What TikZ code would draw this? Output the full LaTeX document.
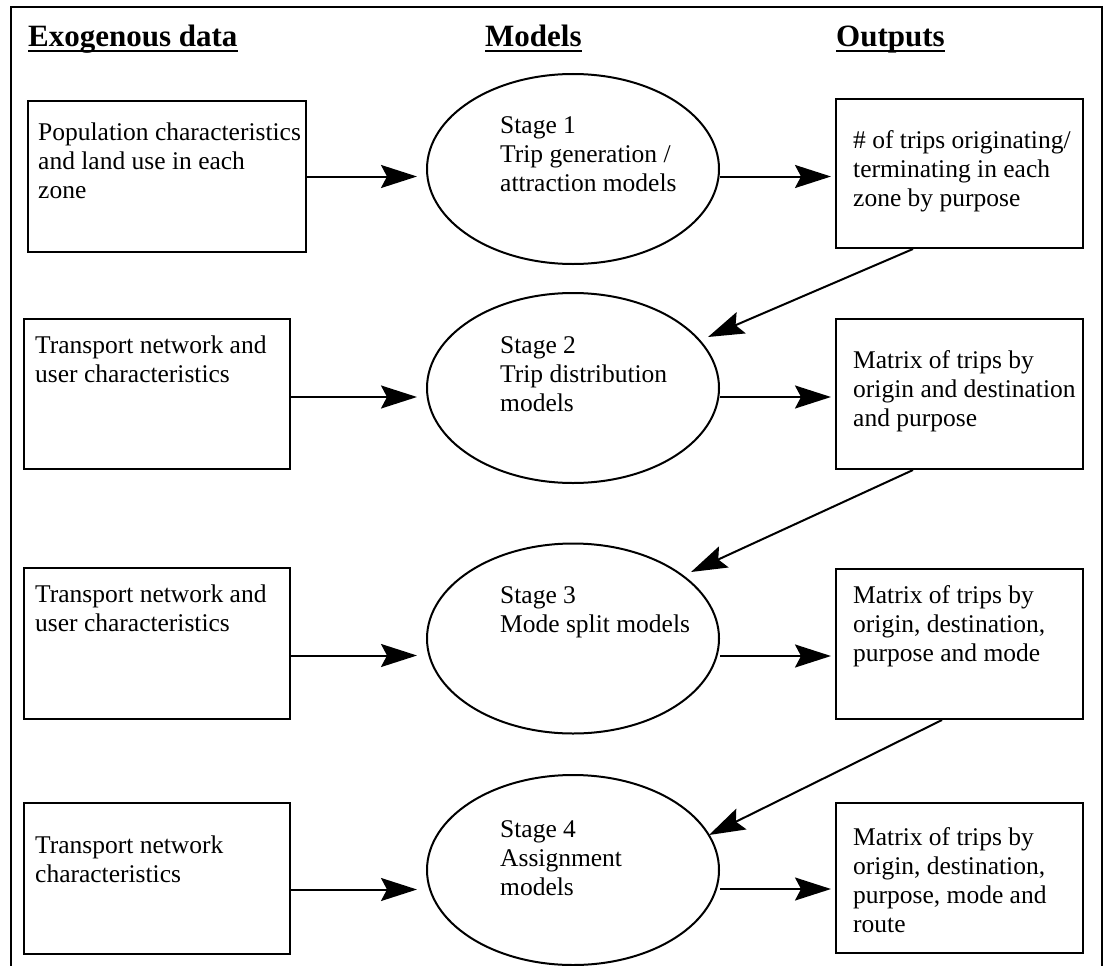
\documentclass[tikz,border=0pt]{standalone}
\usepackage{fontspec}
\setmainfont{Liberation Serif}
\usetikzlibrary{arrows.meta,shapes.geometric,calc}
\tikzset{
  lw/.style={line width=2pt},
  box/.style={draw, lw, rectangle, inner sep=0pt},
  oval/.style={draw, lw, ellipse, inner sep=0pt, minimum width=292pt, minimum height=190pt},
  txt/.style={inner sep=0pt, anchor=base west, font=\fontsize{25.5}{29}\selectfont},
  hdr/.style={inner sep=0pt, anchor=base west, font=\fontsize{31}{36}\selectfont\bfseries},
  arr/.style={lw, -{Stealth[length=36pt, width=23pt, inset=6pt]}},
}
\newcommand{\lines}[1]{\parbox[t]{320pt}{#1}}
\begin{document}
\begin{tikzpicture}[x=1pt, y=-1pt]
\useasboundingbox (0,0) rectangle (1111,966);
% frame
\draw[lw] (11,966) -- (11,7) -- (1102,7) -- (1102,966);
% headers
\node[hdr] (H1) at (28,47) {Exogenous data};
\node[hdr] (H2) at (485,47) {Models};
\node[hdr] (H3) at (836,47) {Outputs};
\foreach \h in {H1,H2,H3}{
  \draw[line width=2.5pt] ([yshift=-4pt]\h.base west) -- ([yshift=-4pt]\h.base east);
}
% left boxes
\node[box, minimum width=278pt, minimum height=151pt] (L1) at (167,176.5) {};
\node[box, minimum width=266pt, minimum height=150pt] (L2) at (157,394) {};
\node[box, minimum width=266pt, minimum height=151pt] (L3) at (157,643.5) {};
\node[box, minimum width=266pt, minimum height=151pt] (L4) at (157,878.5) {};
% ellipses
\node[oval] (E1) at (573,169) {};
\node[oval] (E2) at (573,388) {};
\node[oval] (E3) at (573,638.5) {};
\node[oval] (E4) at (573,870) {};
% right boxes
\node[box, minimum width=247pt, minimum height=149pt] (R1) at (959.5,173.5) {};
\node[box, minimum width=247pt, minimum height=150pt] (R2) at (959.5,394) {};
\node[box, minimum width=247pt, minimum height=150pt] (R3) at (959.5,644) {};
\node[box, minimum width=247pt, minimum height=150pt] (R4) at (959.5,878) {};
% texts
\node[txt] (L1t) at (38,140) {\lines{Population characteristics\\and land use in each\\zone}};
\node[txt] (L2t) at (35,353) {\lines{Transport network and\\user characteristics}};
\node[txt] (L3t) at (35,602) {\lines{Transport network and\\user characteristics}};
\node[txt] (L4t) at (35,853) {\lines{Transport network\\characteristics}};
\node[txt] (E1t) at (500,133) {\lines{Stage 1\\Trip generation /\\attraction models}};
\node[txt] (E2t) at (500,353) {\lines{Stage 2\\Trip distribution\\models}};
\node[txt] (E3t) at (500,603) {\lines{Stage 3\\Mode split models}};
\node[txt] (E4t) at (500,837) {\lines{Stage 4\\Assignment\\models}};
\node[txt] (R1t) at (853,148) {\lines{\# of trips originating/\\terminating in each\\zone by purpose}};
\node[txt] (R2t) at (853,368) {\lines{Matrix of trips by\\origin and destination\\and purpose}};
\node[txt] (R3t) at (853,603) {\lines{Matrix of trips by\\origin, destination,\\purpose and mode}};
\node[txt] (R4t) at (853,845) {\lines{Matrix of trips by\\origin, destination,\\purpose, mode and\\route}};
% arrows left -> ellipse
\draw[arr, shorten >=9pt] (L1.east) -- (L1.east -| E1.west);
\draw[arr, shorten >=9pt] ([yshift=-3pt]L2.east) -- ([yshift=-3pt]L2.east -| E2.west);
\draw[arr, shorten >=9pt] ([yshift=-12pt]L3.east) -- ([yshift=-12pt]L3.east -| E3.west);
\draw[arr, shorten >=9pt] ([yshift=-11pt]L4.east) -- ([yshift=-11pt]L4.east -| E4.west);
% arrows ellipse -> right
\draw[arr, shorten >=4pt] ([yshift=-3pt]E1.east |- R1.west) -- ([yshift=-3pt]R1.west);
\draw[arr, shorten >=4pt] ([yshift=-3pt]E2.east |- R2.west) -- ([yshift=-3pt]R2.west);
\draw[arr, shorten >=4pt] ([yshift=-12pt]E3.east |- R3.west) -- ([yshift=-12pt]R3.west);
\draw[arr, shorten >=4pt] ([yshift=-11pt]E4.east |- R4.west) -- ([yshift=-11pt]R4.west);
% diagonal arrows
\coordinate (T2) at (708,337);
\coordinate (T3) at (691,572);
\coordinate (T4) at (709,835);
\draw[arr] ([xshift=-46.5pt]R1.south) -- (T2);
\draw[arr] ([xshift=-46.5pt]R2.south) -- (T3);
\draw[arr] ([xshift=-17.5pt]R3.south) -- (T4);
\end{tikzpicture}
\end{document}
